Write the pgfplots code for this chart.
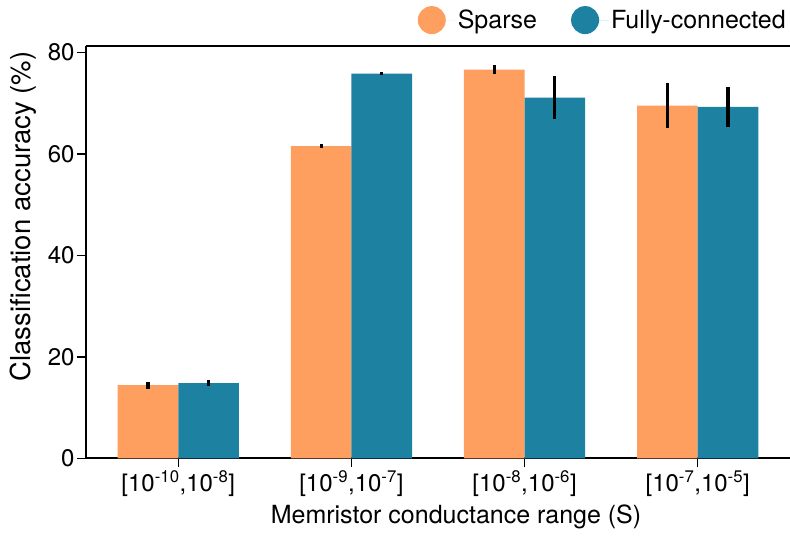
\documentclass[border=0pt]{standalone}
\usepackage{fontspec}
\setmainfont{TeX Gyre Heros}
\usepackage{pgfplots}
\pgfplotsset{compat=1.18}
\definecolor{sparse}{HTML}{FE9F5F}
\definecolor{fc}{HTML}{1D81A2}
\begin{document}
\begin{tikzpicture}
\begin{axis}[
  scale only axis, width=704pt, height=412pt,
  xmin=-0.533, xmax=3.533, ymin=0, ymax=81.2,
  axis x line*=box, axis y line*=left,
  xtick pos=left, ytick pos=left,
  axis line style={line width=1.8pt, black},
  tick align=outside, major tick length=9pt,
  tick style={line width=1.5pt, black},
  xtick={0,1,2,3},
  xticklabels={{[10\textsuperscript{-10},10\textsuperscript{-8}]},{[10\textsuperscript{-9},10\textsuperscript{-7}]},{[10\textsuperscript{-8},10\textsuperscript{-6}]},{[10\textsuperscript{-7},10\textsuperscript{-5}]}},
  ytick={0,20,40,60,80},
  /pgf/number format/assume math mode=true,
  ticklabel style={font=\fontsize{24}{28}\selectfont},
  yticklabel style={xshift=1pt},
  xlabel={Memristor conductance range (S)},
  ylabel={Classification accuracy (\%)},
  xlabel style={font=\fontsize{25}{29}\selectfont, at={(axis description cs:0.5256,-0.105)}, anchor=north},
  ylabel style={font=\fontsize{27.5}{32}\selectfont, at={(axis description cs:-0.0888,0.587)}, anchor=center},
  ybar, bar width=0.35,
  legend columns=2,
  legend style={draw=none, fill=none, at={(rel axis cs:1,1)}, anchor=south east, yshift=10pt, xshift=1pt,
    font=\fontsize{25}{28}\selectfont,
    /tikz/every even column/.append style={column sep=32pt}},
  legend image code/.code={\fill[#1,draw=none] (14pt,0pt) circle (14pt); \path (0pt,0pt) -- (38pt,0pt);},
  error bars/y dir=both, error bars/y explicit,
  error bars/error mark=none,
  error bars/error bar style={line width=3.2pt, black},
]
\addplot+[fill=sparse, draw=none, bar shift=-0.175] coordinates {
  (0,14.4) +- (0,0.7)
  (1,61.5) +- (0,0.35)
  (2,76.6) +- (0,0.9)
  (3,69.5) +- (0,4.5)
};
\addplot+[fill=fc, draw=none, bar shift=0.175] coordinates {
  (0,14.8) +- (0,0.6)
  (1,75.8) +- (0,0.35)
  (2,71.1) +- (0,4.2)
  (3,69.25) +- (0,3.95)
};
\legend{Sparse,Fully-connected}
\coordinate (bl) at (rel axis cs:0,0);
\coordinate (tr) at (rel axis cs:1,1);
\end{axis}
\pgfresetboundingbox
\path ([xshift=-86pt,yshift=-80.7pt]bl) rectangle ([yshift=46.3pt]tr);
\end{tikzpicture}
\end{document}
